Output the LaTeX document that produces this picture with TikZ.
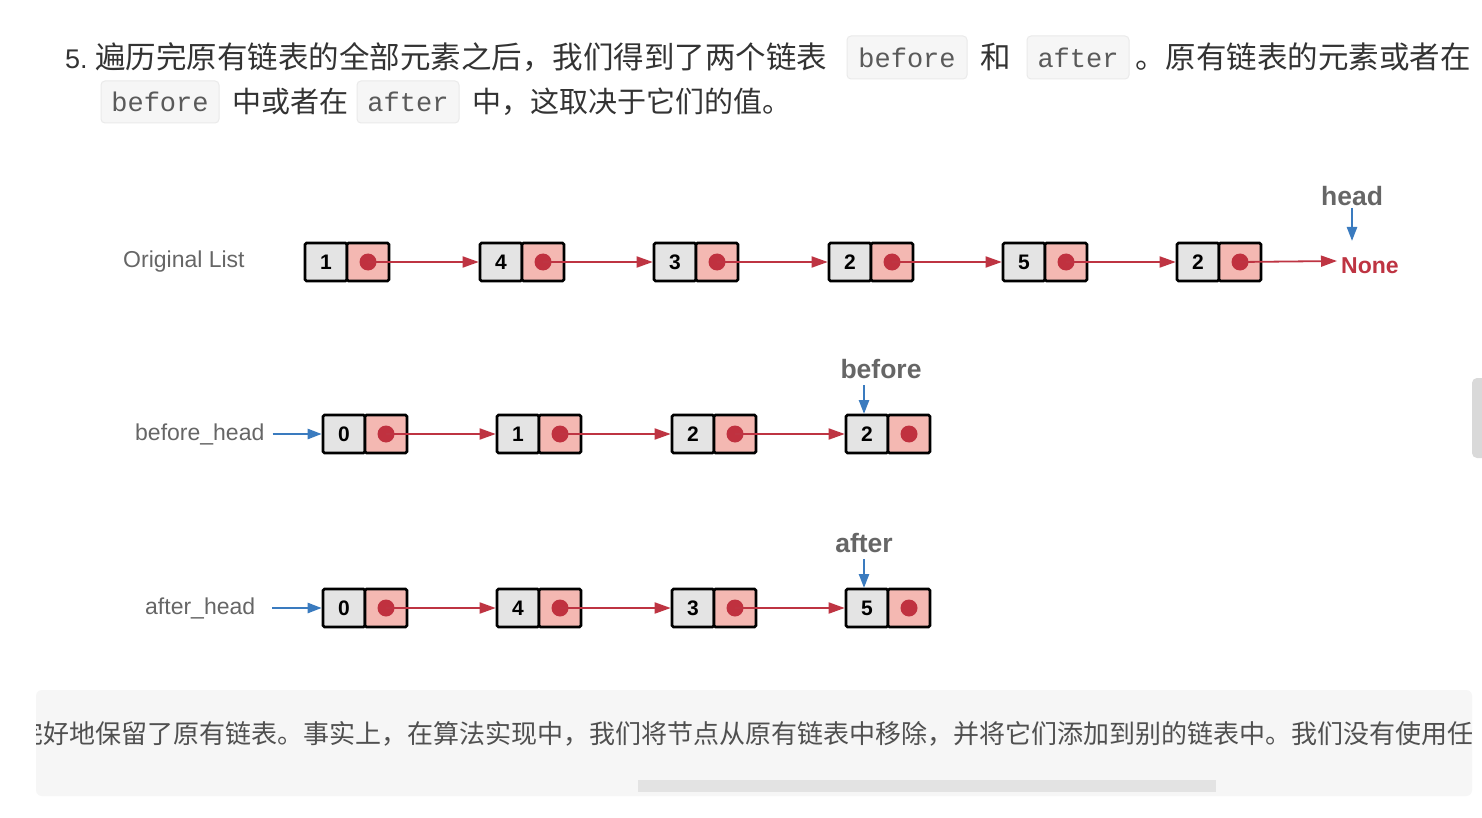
\documentclass[tikz,border=0pt]{standalone}
\usepackage{fontspec}
\setmainfont{Liberation Sans}
\newfontfamily\cjk{Noto Sans CJK SC}
\newfontfamily\codefont{Liberation Mono}
\usetikzlibrary{arrows.meta}
\definecolor{cellgray}{HTML}{E4E4E4}
\definecolor{cellpink}{HTML}{F4B8B2}
\definecolor{dotred}{HTML}{C0313F}
\definecolor{arrred}{HTML}{BE3442}
\definecolor{arrblue}{HTML}{3A7BBF}
\definecolor{labgray}{HTML}{666666}
\definecolor{txtdark}{HTML}{333333}
\definecolor{codebg}{HTML}{F6F6F6}
\definecolor{codeborder}{HTML}{EAEAEA}
\definecolor{codetxt}{HTML}{5A5A5A}
\definecolor{bottombg}{HTML}{F6F6F6}
\definecolor{bottomtxt}{HTML}{505050}
\definecolor{scrollgray}{HTML}{E3E3E3}
\definecolor{sidebar}{HTML}{D9D9D9}
\tikzset{
  cell/.style={draw=black, line width=2.6pt, minimum width=42pt, minimum height=38pt,
    inner sep=0pt, rounded corners=1.5pt, font=\fontsize{21}{21}\selectfont\bfseries},
  valcell/.style={cell, fill=cellgray},
  ptrcell/.style={cell, fill=cellpink},
  ptrdot/.style={circle, fill=dotred, minimum size=17pt, inner sep=0pt},
  rarrow/.style={draw=arrred, line width=1.8pt, -{Triangle[length=16pt,width=11pt]}},
  barrow/.style={draw=arrblue, line width=2.4pt, -{Triangle[length=14pt,width=10pt]}},
  rowlabel/.style={anchor=base west, inner sep=0pt, text=labgray, font=\fontsize{23}{23}\selectfont},
  ptrlabel/.style={anchor=base, inner sep=0pt, text=labgray, font=\fontsize{26.5}{26.5}\selectfont\bfseries},
  cjkone/.style={anchor=base west, inner sep=0pt, text=txtdark, font=\cjk\fontsize{30.5}{30.5}\selectfont},
  cjktwo/.style={anchor=base west, inner sep=0pt, text=txtdark, font=\cjk\fontsize{29}{29}\selectfont},
  codebox/.style={fill=codebg, draw=codeborder, line width=1pt, rounded corners=4pt,
    minimum height=43pt, inner sep=0pt, text=codetxt, font=\codefont\fontsize{27}{27}\selectfont},
}
\newcommand\llnode[4]{%
  \node[valcell] (#1v) at ({#2+21},#3) {#4};
  \node[ptrcell] (#1p) at ({#2+63},#3) {};
  \node[ptrdot] (#1d) at (#1p.center) {};
}
\begin{document}
\begin{tikzpicture}[x=1pt,y=-1pt]
\useasboundingbox (0,0) rectangle (1482,818);
\fill[white] (0,0) rectangle (1482,818);

% ---- top paragraph ----
\node[anchor=base west, inner sep=0pt, text=txtdark, font=\fontsize{27}{27}\selectfont] (num) at (65,69) {5.};
\node[cjkone] (t1) at (95,69) {遍历完原有链表的全部元素之后，我们得到了两个链表};
\node[codebox, minimum width=120pt] (c1) at (907,57.5) {before};
\node[cjkone] (t2) at (980,69) {和};
\node[codebox, minimum width=102pt] (c2) at (1078,57.5) {after};
\node[cjkone] (t3) at (1135,69) {。原有链表的元素或者在};
\node[codebox, minimum width=118pt, minimum height=42pt] (c3) at (160,102) {before};
\node[cjktwo] (t4) at (232,113) {中或者在};
\node[codebox, minimum width=102pt, minimum height=42pt] (c4) at (408,102) {after};
\node[cjktwo] (t5) at (472,113) {中，这取决于它们的值。};

% ---- original list ----
\node[rowlabel] (orig) at (123,267.5) {Original List};
\llnode{a1}{305}{262}{1}
\llnode{a2}{480}{262}{4}
\llnode{a3}{654}{262}{3}
\llnode{a4}{829}{262}{2}
\llnode{a5}{1003}{262}{5}
\llnode{a6}{1177}{262}{2}
\draw[rarrow] (a1d.center) -- (a2v.west);
\draw[rarrow] (a2d.center) -- (a3v.west);
\draw[rarrow] (a3d.center) -- (a4v.west);
\draw[rarrow] (a4d.center) -- (a5v.west);
\draw[rarrow] (a5d.center) -- (a6v.west);
\node[anchor=base west, inner sep=0pt, text=arrred, font=\fontsize{23}{23}\selectfont\bfseries] (none) at (1341,273) {None};
\coordinate (nonein) at (1337,261);
\draw[rarrow] (a6d.center) -- (nonein);
\node[ptrlabel] (headlbl) at (1352,205.5) {head};
\coordinate (headtop) at (1352,208);
\coordinate (headtip) at (1352,241);
\draw[barrow] (headtop) -- (headtip);

% ---- before list ----
\node[rowlabel] (bh) at (135,440.5) {before\_head};
\llnode{b1}{323}{434}{0}
\llnode{b2}{497}{434}{1}
\llnode{b3}{672}{434}{2}
\llnode{b4}{846}{434}{2}
\draw[barrow] ([xshift=8pt]bh.base east |- b1v.west) -- (b1v.west);
\draw[rarrow] (b1d.center) -- (b2v.west);
\draw[rarrow] (b2d.center) -- (b3v.west);
\draw[rarrow] (b3d.center) -- (b4v.west);
\node[ptrlabel] (beforelbl) at (881,378.5) {before};
\draw[barrow] (864,385) -- (864,414);

% ---- after list ----
\node[rowlabel] (ah) at (145,614.5) {after\_head};
\llnode{c1n}{323}{608}{0}
\llnode{c2n}{497}{608}{4}
\llnode{c3n}{672}{608}{3}
\llnode{c4n}{846}{608}{5}
\draw[barrow] (272,608) -- (c1nv.west);
\draw[rarrow] (c1nd.center) -- (c2nv.west);
\draw[rarrow] (c2nd.center) -- (c3nv.west);
\draw[rarrow] (c3nd.center) -- (c4nv.west);
\node[ptrlabel] (afterlbl) at (864,552.5) {after};
\draw[barrow] (864,559) -- (864,588);

% ---- bottom box ----
\fill[bottombg, rounded corners=6pt] (36,690) rectangle (1472,796);
\begin{scope}
\clip (36,690) rectangle (1472,796);
\node[anchor=base west, inner sep=0pt, text=bottomtxt, font=\cjk\fontsize{26}{26}\selectfont] (btxt) at (17,743)
  {完好地保留了原有链表。事实上，在算法实现中，我们将节点从原有链表中移除，并将它们添加到别的链表中。我们没有使用任何};
\end{scope}
\fill[scrollgray] (638,780) rectangle (1216,792);
\fill[sidebar, rounded corners=5pt] (1472,378) rectangle (1492,458);
\end{tikzpicture}
\end{document}
